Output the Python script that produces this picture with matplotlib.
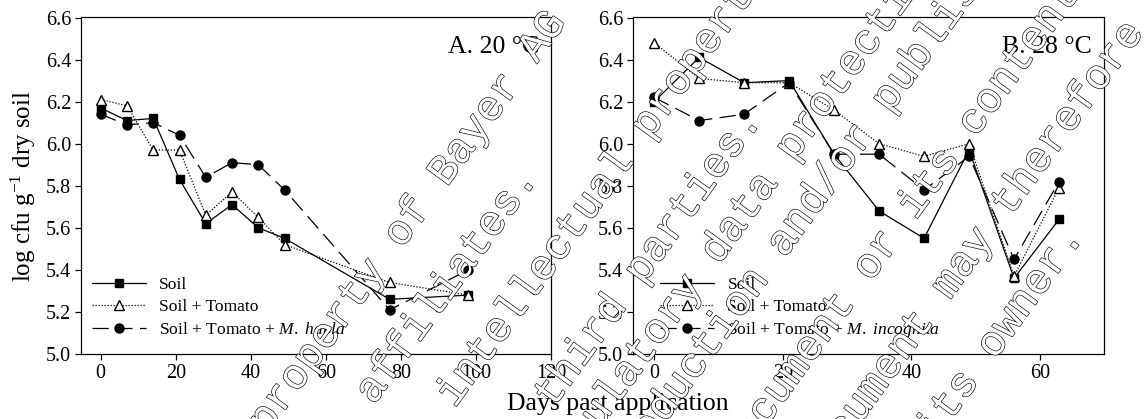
import matplotlib
matplotlib.use("Agg")
import matplotlib.pyplot as plt
import matplotlib.patheffects as pe
import numpy as np

# data (log cfu per g dry soil)
days_a = [0, 7, 14, 21, 28, 35, 42, 49, 77, 98]
soil_a = [6.17, 6.11, 6.12, 5.83, 5.62, 5.71, 5.60, 5.55, 5.26, 5.28]
tomato_a = [6.21, 6.18, 5.97, 5.97, 5.66, 5.77, 5.65, 5.52, 5.34, 5.28]
hapla_a = [6.14, 6.09, 6.10, 6.04, 5.84, 5.91, 5.90, 5.78, 5.21, 5.40]

days_b = [0, 7, 14, 21, 28, 35, 42, 49, 56, 63]
soil_b = [6.20, 6.41, 6.29, 6.30, 5.95, 5.68, 5.55, 5.97, 5.36, 5.64]
tomato_b = [6.48, 6.31, 6.29, 6.29, 6.16, 6.00, 5.94, 6.00, 5.37, 5.79]
incog_b = [6.22, 6.11, 6.14, 6.29, 5.95, 5.95, 5.78, 5.94, 5.45, 5.82]

labels_a = ["Soil", "Soil + Tomato", r"Soil + Tomato + $\mathit{M.\ hapla}$"]
labels_b = ["Soil", "Soil + Tomato", r"Soil + Tomato + $\mathit{M.\ incognita}$"]

# watermark lines: text, pixel position of one character centre, index of that character
watermark = [
    ("property of Bayer AG", (447, 172), 12),
    ("affiliates.", (374, 390), 0),
    ("intellectual property", (455, 393), 0),
    ("third parties.", (643, 270), 6),
    ("regulatory data protection", (719, 250), 11),
    ("reproduction and/or publishing", (785, 243), 13),
    ("document or its contents", (871, 267), 9),
    ("document may therefore", (950, 285), 9),
    ("its owner.", (995, 345), 4),
]

plt.rcParams["font.family"] = ["Liberation Serif", "DejaVu Serif"]
plt.rcParams["mathtext.fontset"] = "custom"
plt.rcParams["mathtext.rm"] = "Liberation Serif"
plt.rcParams["mathtext.it"] = "Liberation Serif:italic"

W, H = 1144, 419
fig = plt.figure(figsize=(W / 100, H / 100), dpi=100)

ax_a = fig.add_axes([81 / W, 1 - 354 / H, 470 / W, 336.5 / H])
ax_b = fig.add_axes([633 / W, 1 - 354 / H, 471 / W, 336.5 / H])

lw = 0.9
ms = 6.5


def draw_panel(ax, days, soil, tomato, nema, labels, title, xlim, xticks, leg_x):
    ax.plot(days, soil, color="black", lw=lw, ls="-", marker="s", ms=ms - 0.5,
            mfc="black", mec="black", label=labels[0], zorder=3)
    ax.plot(days, tomato, color="black", lw=lw, ls=(0, (1, 1.4)), marker="^", ms=ms,
            mfc="white", mec="black", mew=1.0, label=labels[1], zorder=3)
    ax.plot(days, nema, color="black", lw=lw, ls=(0, (13, 6)), marker="o", ms=ms,
            mfc="black", mec="black", label=labels[2], zorder=3)
    ax.set_xlim(*xlim)
    ax.set_ylim(5.0, 6.6)
    ax.set_xticks(xticks)
    ax.set_yticks(np.arange(5.0, 6.61, 0.2))
    ax.yaxis.set_major_formatter(matplotlib.ticker.FormatStrFormatter("%.1f"))
    ax.tick_params(direction="out", length=4, width=0.9, labelsize=14.5, pad=3)
    for s in ax.spines.values():
        s.set_linewidth(0.9)
    ax.text(0.975, 0.945, title, transform=ax.transAxes, ha="right", va="top",
            fontsize=18.5)
    ax.legend(loc="lower left", bbox_to_anchor=(leg_x, 0.03), frameon=False,
              fontsize=12.6, handlelength=3.1, handletextpad=0.75,
              labelspacing=0.32, borderpad=0.2, borderaxespad=0)


draw_panel(ax_a, days_a, soil_a, tomato_a, hapla_a, labels_a, "A. 20 °C",
           (-5.25, 120), [0, 20, 40, 60, 80, 100, 120], 0.015)
draw_panel(ax_b, days_b, soil_b, tomato_b, incog_b, labels_b, "B. 28 °C",
           (-3.3, 70), [0, 20, 40, 60], 0.05)

ax_a.set_ylabel(r"log cfu g$^{-1}$ dry soil", fontsize=18, labelpad=6)
fig.text(618 / W, 1 - 404 / H, "Days past application", ha="center", va="center",
         fontsize=18.5)

# diagonal outline watermark drawn on top
ang = np.deg2rad(54)
adv = 25.5
d = np.array([np.cos(ang), -np.sin(ang)])
up = np.array([-np.sin(ang), -np.cos(ang)])
for txt, ref, idx in watermark:
    c = np.array(ref, dtype=float) - (idx + 0.5) * adv * d
    b = c - 9 * up
    fig.text(b[0] / W, 1 - b[1] / H, txt, rotation=54, rotation_mode="anchor",
             ha="left", va="baseline", fontsize=30.6, color="white",
             family=["Liberation Mono"], zorder=10,
             path_effects=[pe.Stroke(linewidth=0.9, foreground="black"), pe.Normal()])

fig.savefig("out.png", dpi=100)
